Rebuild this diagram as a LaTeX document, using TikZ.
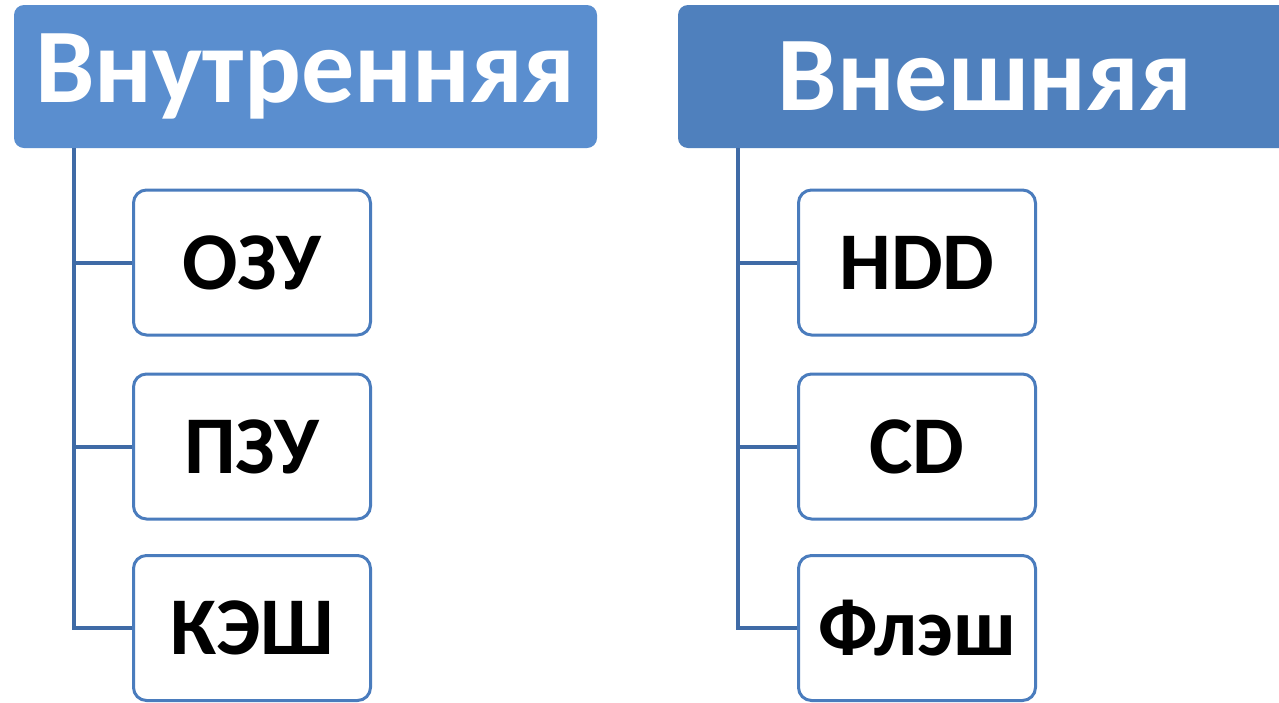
\documentclass[tikz,border=0pt]{standalone}
\usepackage{fontspec}
\setmainfont{Carlito}
\definecolor{headL}{HTML}{5A8ECF}
\definecolor{headR}{HTML}{4F80BD}
\definecolor{boxline}{HTML}{4A7CBD}
\definecolor{connline}{HTML}{3F6BA6}
\tikzset{
  headbox/.style={rounded corners=10pt, inner sep=0pt, text=white,
    font=\bfseries\fontsize{106}{106}\selectfont, minimum height=143pt},
  itembox/.style={draw=boxline, line width=3pt, fill=white, rounded corners=13pt,
    inner sep=0pt, minimum width=237pt, minimum height=145pt,
    font=\bfseries\fontsize{82}{82}\selectfont, text=black},
  conn/.style={draw=connline, line width=4pt}
}
\begin{document}
\begin{tikzpicture}[x=1pt,y=-1pt]
\useasboundingbox (0,0) rectangle (1279,702);
\clip (0,0) rectangle (1279,702);
\fill[white] (0,0) rectangle (1279,702);

% headers
\node[headbox, fill=headL, minimum width=583pt] (inner) at (305.5,76.5) {Внутренняя};
\node[headbox, fill=headR, minimum width=614pt] (outer) at (985,76.5) {Внешняя};

% internal memory items
\node[itembox] (ozu)  at (252,262.5) {ОЗУ};
\node[itembox] (pzu)  at (252,446.5) {ПЗУ};
\node[itembox] (kesh) at (252,628)   {КЭШ};

% external memory items
\node[itembox] (hdd)   at (917,262.5) {HDD};
\node[itembox] (cd)    at (917,446.5) {CD};
\node[itembox] (flash) at (917,628)   {Флэш};

% connectors
\coordinate (iTop) at ([xshift=60pt]inner.south west);
\coordinate (oTop) at ([xshift=60pt]outer.south west);
\draw[conn] (iTop) |- (kesh.west);
\draw[conn] (iTop |- ozu.west) -- (ozu.west);
\draw[conn] (iTop |- pzu.west) -- (pzu.west);
\draw[conn] (oTop) |- (flash.west);
\draw[conn] (oTop |- hdd.west) -- (hdd.west);
\draw[conn] (oTop |- cd.west) -- (cd.west);
\end{tikzpicture}
\end{document}
